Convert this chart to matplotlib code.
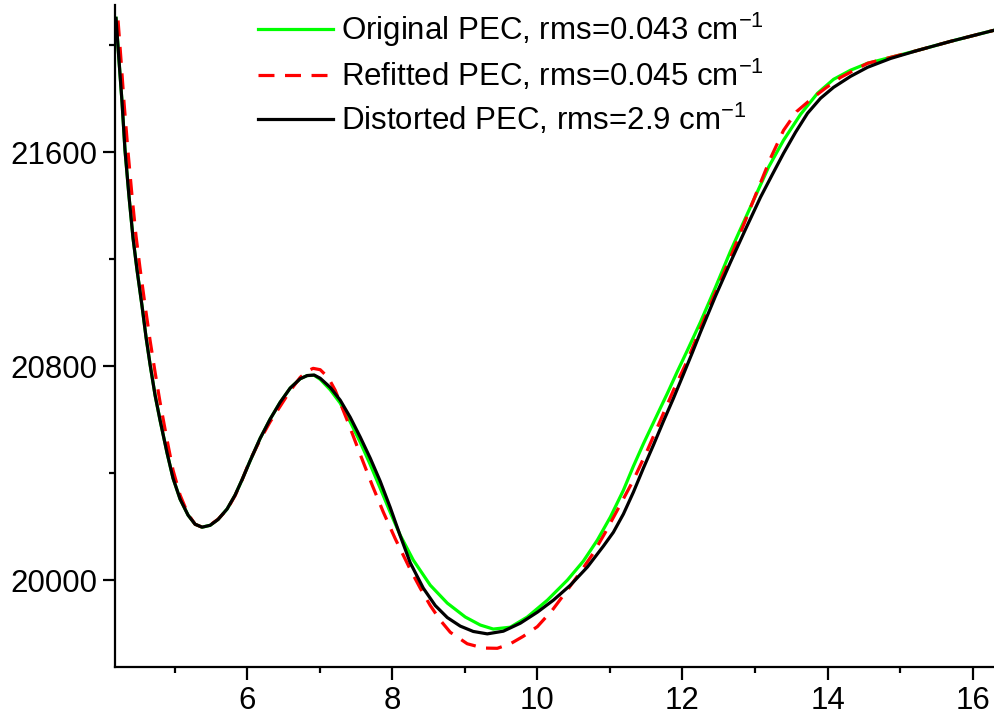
import matplotlib
matplotlib.use("Agg")
import matplotlib.pyplot as plt
from matplotlib.ticker import MultipleLocator

plt.rcParams['font.family'] = ['Liberation Sans', 'DejaVu Sans']
plt.rcParams['mathtext.fontset'] = 'custom'
plt.rcParams['mathtext.rm'] = 'Liberation Sans'

# values (bond length vs energy, cm-1)
x_dist = [4.193, 4.234, 4.276, 4.317, 4.372, 4.428, 4.483, 4.552, 4.607, 4.662,
          4.731, 4.800, 4.897, 4.979, 5.076, 5.186, 5.283, 5.379, 5.490, 5.600,
          5.724, 5.834, 5.931, 6.041, 6.179, 6.317, 6.455, 6.593, 6.731, 6.828,
          6.924, 7.007, 7.145, 7.283, 7.421, 7.559, 7.697, 7.834, 7.972, 8.110,
          8.248, 8.428, 8.593, 8.759, 8.938, 9.117, 9.310, 9.531, 9.766, 10.000,
          10.221, 10.455, 10.690, 10.910, 11.048, 11.186, 11.324, 11.462, 11.600,
          11.738, 11.876, 12.014, 12.138, 12.248, 12.455, 12.662, 12.869, 13.076,
          13.241, 13.393, 13.559, 13.724, 13.903, 14.083, 14.317, 14.552, 14.869,
          15.241, 15.697, 16.290]
y_dist = [22101, 21944, 21787, 21607, 21435, 21278, 21159, 21024, 20908, 20807,
          20692, 20598, 20475, 20381, 20303, 20243, 20209, 20198, 20205, 20227,
          20266, 20318, 20376, 20446, 20530, 20602, 20665, 20718, 20753, 20765,
          20767, 20755, 20721, 20673, 20609, 20535, 20456, 20370, 20272, 20166,
          20065, 19970, 19905, 19860, 19828, 19808, 19799, 19809, 19839, 19880,
          19925, 19981, 20049, 20127, 20179, 20247, 20329, 20419, 20505,
          20594, 20680, 20770, 20852, 20927, 21062, 21189, 21312, 21432,
          21518, 21596, 21675, 21746, 21802, 21843, 21884, 21918, 21951,
          21981, 22015, 22056]

x_orig = [4.193, 4.234, 4.276, 4.317, 4.372, 4.428, 4.483, 4.552, 4.607, 4.662,
          4.731, 4.800, 4.897, 4.979, 5.076, 5.186, 5.283, 5.379, 5.490, 5.600,
          5.724, 5.834, 5.931, 6.041, 6.179, 6.317, 6.455, 6.593, 6.731, 6.828,
          6.924, 7.007, 7.145, 7.283, 7.421, 7.559, 7.697, 7.834, 7.972, 8.110,
          8.290, 8.524, 8.759, 9.007, 9.214, 9.393, 9.628, 9.862, 10.138, 10.414,
          10.634, 10.828, 11.007, 11.186, 11.324, 11.462, 11.628, 11.793, 11.931,
          12.069, 12.248, 12.455, 12.662, 12.828, 12.979, 13.186, 13.393, 13.628,
          13.862, 14.083, 14.317, 14.552, 14.869, 15.241, 15.697, 16.290]
y_orig = [22101, 21944, 21787, 21607, 21435, 21278, 21159, 21024, 20908, 20807,
          20692, 20598, 20475, 20381, 20303, 20243, 20209, 20198, 20205, 20227,
          20266, 20318, 20376, 20446, 20530, 20602, 20665, 20718, 20753, 20765,
          20766, 20751, 20712, 20662, 20592, 20516, 20432, 20344, 20254, 20168,
          20075, 19981, 19914, 19862, 19832, 19817, 19824, 19862, 19925, 20000,
          20071, 20150, 20236, 20336, 20426, 20510, 20605, 20699, 20781,
          20860, 20965, 21095, 21230, 21330, 21420, 21544, 21645, 21742,
          21821, 21873, 21907, 21933, 21955, 21981, 22015, 22056]

x_refit = [4.221, 4.262, 4.303, 4.359, 4.414, 4.469, 4.524, 4.593, 4.662, 4.731,
           4.800, 4.897, 4.979, 5.076, 5.186, 5.283, 5.379, 5.490, 5.600, 5.724,
           5.834, 5.931, 6.041, 6.179, 6.317, 6.455, 6.593, 6.731, 6.828, 6.910,
           7.007, 7.117, 7.214, 7.379, 7.559, 7.724, 7.876, 8.041, 8.248, 8.386,
           8.524, 8.662, 8.800, 9.034, 9.255, 9.448, 9.628, 9.807, 10.000, 10.207,
           10.414, 10.593, 10.772, 10.938, 11.103, 11.324, 11.517, 11.697, 11.876,
           12.069, 12.248, 12.455, 12.662, 12.869, 13.034, 13.214, 13.393, 13.572,
           13.766, 13.972, 14.179, 14.552, 14.869, 15.241, 15.697, 16.290]
y_refit = [22093, 21944, 21787, 21600, 21435, 21286, 21166, 21028, 20897, 20778,
           20665, 20523, 20411, 20318, 20247, 20209, 20198, 20206, 20228, 20264,
           20316, 20375, 20449, 20525, 20592, 20650, 20708, 20758, 20782, 20792,
           20787, 20758, 20710, 20598, 20470, 20355, 20255, 20155, 20040, 19970,
           19905, 19850, 19805, 19762, 19746, 19745, 19762, 19790, 19826, 19888,
           19963, 20030, 20101, 20179, 20262, 20374, 20486, 20598, 20710,
           20822, 20942, 21077, 21207, 21346, 21458, 21578, 21682, 21752,
           21797, 21840, 21880, 21933, 21955, 21981, 22015, 22056]

labels = ['Original PEC, rms=0.043 cm$^{-1}$',
          'Refitted PEC, rms=0.045 cm$^{-1}$',
          'Distorted PEC, rms=2.9 cm$^{-1}$']

fig = plt.figure(figsize=(9.94, 7.17), dpi=100)
ax = fig.add_axes([0.1157, 0.0697, 0.884, 0.923])

ax.plot(x_orig, y_orig, color='#00ff00', lw=2.3, label=labels[0])
ax.plot(x_refit, y_refit, color='#ff0000', lw=2.3, dashes=(5, 3.3), label=labels[1])
ax.plot(x_dist, y_dist, color='black', lw=2.3, label=labels[2])

ax.set_xlim(4.179, 16.29)
ax.set_ylim(19675, 22150)

ax.spines['top'].set_visible(False)
ax.spines['right'].set_visible(False)
for s in ('left', 'bottom'):
    ax.spines[s].set_linewidth(1.6)

ax.xaxis.set_major_locator(MultipleLocator(2))
ax.xaxis.set_minor_locator(MultipleLocator(1))
ax.yaxis.set_major_locator(MultipleLocator(800))
ax.yaxis.set_minor_locator(MultipleLocator(400))
ax.tick_params(which='major', direction='out', length=9, width=1.6, labelsize=22.5)
ax.tick_params(which='minor', direction='out', length=4.5, width=1.6)
ax.tick_params(axis='x', pad=5)
ax.tick_params(axis='y', pad=4)

leg = ax.legend(loc='upper left', bbox_to_anchor=(0.2596, 0.985),
                bbox_transform=fig.transFigure, frameon=False,
                fontsize=22.5, handlelength=2.4, handletextpad=0.25, labelspacing=0.27,
                borderpad=0.0, borderaxespad=0.0)

fig.savefig('out.png', dpi=100)
